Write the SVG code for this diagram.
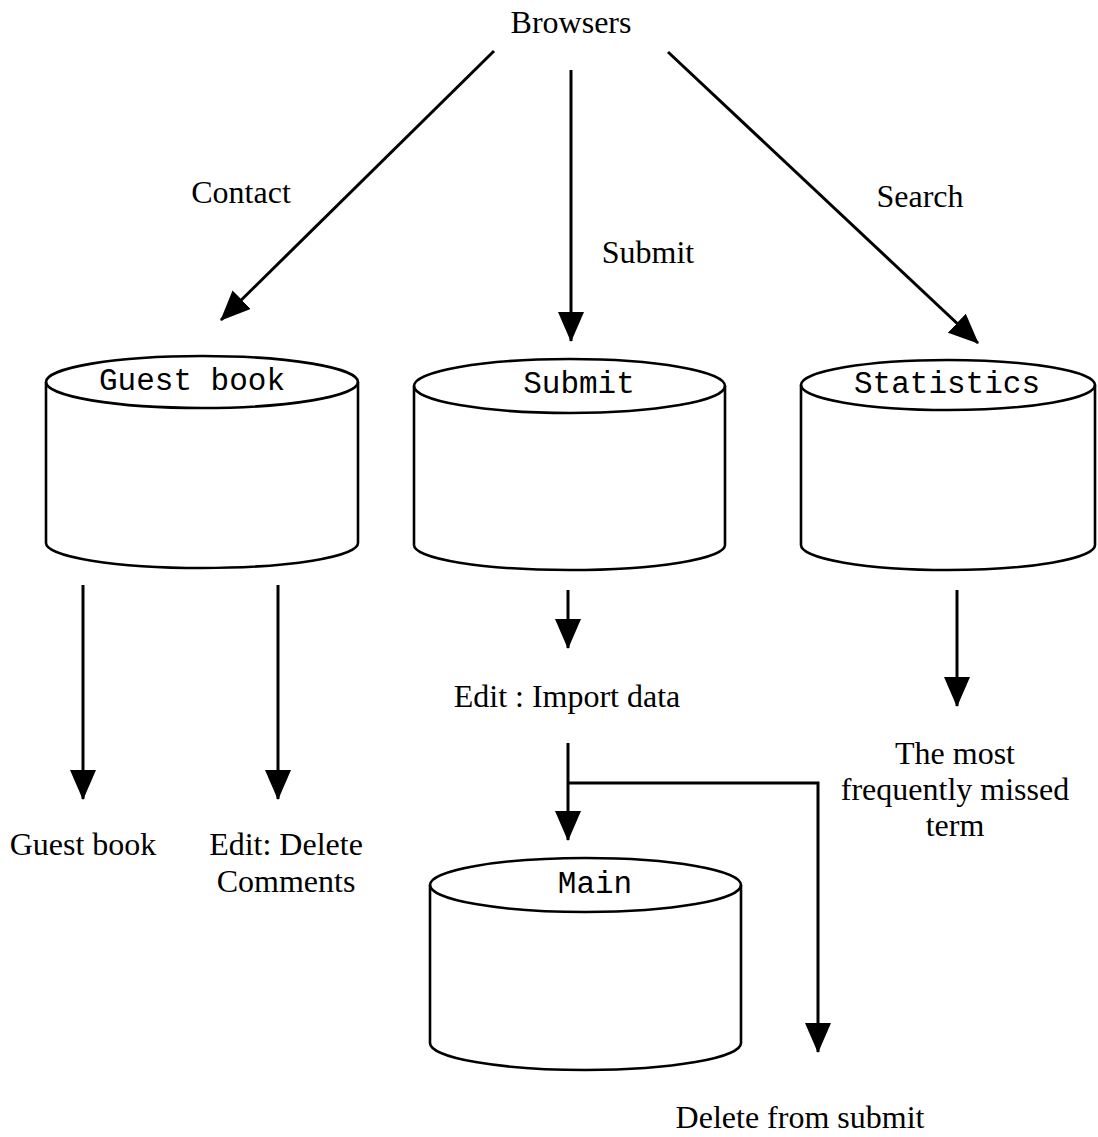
<svg xmlns="http://www.w3.org/2000/svg" width="1098" height="1137" viewBox="0 0 1098 1137">
<style>
.serif{font-family:"Liberation Serif","Times New Roman",serif;font-size:32px;fill:#000}
.mono{font-family:"Liberation Mono","Courier New",monospace;font-size:31px;fill:#000}
.cyl{fill:none;stroke:#000;stroke-width:2.6}
.con{fill:none;stroke:#000;stroke-width:3}
</style>
<defs>
<marker id="ah" markerUnits="userSpaceOnUse" markerWidth="30" markerHeight="26" viewBox="0 0 30 26" refX="29" refY="13" orient="auto">
<path d="M0,0 L30,13 L0,26 Z" fill="#000"/>
</marker>
</defs>
<rect width="1098" height="1137" fill="#fff"/>

<g id="browsers"><text class="serif" x="571" y="33" text-anchor="middle">Browsers</text></g>

<g id="guestbook-db">
<ellipse class="cyl" cx="202" cy="382" rx="156" ry="26"/>
<path class="cyl" d="M46,382 L46,543 A156,25 0 0 0 358,543 L358,382"/>
<text class="mono" x="192" y="390" text-anchor="middle">Guest book</text>
</g>

<g id="submit-db">
<ellipse class="cyl" cx="569.5" cy="386" rx="155.5" ry="27"/>
<path class="cyl" d="M414,386 L414,545 A155.5,25 0 0 0 725,545 L725,386"/>
<text class="mono" x="579" y="393" text-anchor="middle">Submit</text>
</g>

<g id="statistics-db">
<ellipse class="cyl" cx="948" cy="385" rx="147" ry="25"/>
<path class="cyl" d="M801,385 L801,545 A147,25 0 0 0 1095,545 L1095,385"/>
<text class="mono" x="947" y="393" text-anchor="middle">Statistics</text>
</g>

<g id="main-db">
<ellipse class="cyl" cx="585.5" cy="885" rx="155.5" ry="27"/>
<path class="cyl" d="M430,885 L430,1043 A155.5,27 0 0 0 741,1043 L741,885"/>
<text class="mono" x="595" y="893" text-anchor="middle">Main</text>
</g>

<g id="label-guestbook"><text class="serif" x="83" y="855" text-anchor="middle">Guest book</text></g>
<g id="label-edit-delete">
<text class="serif" x="286" y="855" text-anchor="middle">Edit: Delete</text>
<text class="serif" x="286" y="892" text-anchor="middle">Comments</text>
</g>
<g id="label-import"><text class="serif" x="567" y="707" text-anchor="middle">Edit : Import data</text></g>
<g id="label-missed">
<text class="serif" x="955" y="764" text-anchor="middle">The most</text>
<text class="serif" x="955" y="800" text-anchor="middle">frequently missed</text>
<text class="serif" x="955" y="836" text-anchor="middle">term</text>
</g>
<g id="label-delete-submit"><text class="serif" x="800" y="1128" text-anchor="middle">Delete from submit</text></g>

<g id="connectors">
<line class="con" x1="494" y1="51" x2="221" y2="320" marker-end="url(#ah)"/>
<line class="con" x1="571" y1="70" x2="571" y2="341" marker-end="url(#ah)"/>
<line class="con" x1="668" y1="52" x2="978" y2="343" marker-end="url(#ah)"/>
<text class="serif" x="241" y="203" text-anchor="middle">Contact</text>
<text class="serif" x="648" y="263" text-anchor="middle">Submit</text>
<text class="serif" x="920" y="207" text-anchor="middle">Search</text>
<line class="con" x1="83" y1="585" x2="83" y2="799" marker-end="url(#ah)"/>
<line class="con" x1="278" y1="585" x2="278" y2="799" marker-end="url(#ah)"/>
<line class="con" x1="568" y1="590" x2="568" y2="648" marker-end="url(#ah)"/>
<line class="con" x1="957" y1="590" x2="957" y2="706" marker-end="url(#ah)"/>
<line class="con" x1="568" y1="743" x2="568" y2="840" marker-end="url(#ah)"/>
<path class="con" stroke-width="2.4" d="M568,783 L818,783 L818,1052" marker-end="url(#ah)"/>
</g>
</svg>
